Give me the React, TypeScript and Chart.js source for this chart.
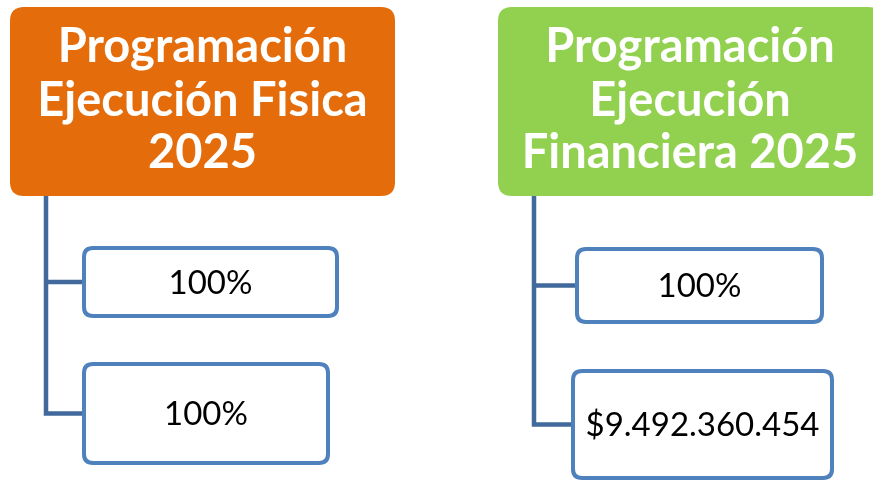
import React, { useEffect, useRef } from "react";
import { Chart, registerables } from "chart.js";

Chart.register(...registerables);

// ---- data ----
const groupNames = ["Fisica", "Financiera"];
const fisicaTitle = ["Programación", "Ejecución Fisica", "2025"];
const financieraTitle = ["Programación", "Ejecución", "Financiera 2025"];
const fisicaValues = ["100%", "100%"];
const financieraValues = ["100%", "$9.492.360.454"];

// ---- layout / style (in canvas units, mapped through chart scales) ----
const W = 873;
const H = 481;
const groups = [
  {
    title: fisicaTitle,
    values: fisicaValues,
    color: "#E46C0A",
    head: { x0: 10, y0: 7, x1: 395, y1: 196 },
    baselines: [62, 116, 168],
    stemX: 46,
    boxes: [
      { x0: 84, y0: 248, x1: 337, y1: 316 },
      { x0: 84, y0: 364, x1: 328, y1: 463 },
    ],
  },
  {
    title: financieraTitle,
    values: financieraValues,
    color: "#92D050",
    head: { x0: 498, y0: 7, x1: 882, y1: 196 },
    baselines: [62, 116, 168],
    stemX: 534,
    boxes: [
      { x0: 577, y0: 249, x1: 822, y1: 322 },
      { x0: 573, y0: 371, x1: 832, y1: 478 },
    ],
  },
];

function roundRect(ctx: CanvasRenderingContext2D, x: number, y: number, w: number, h: number, r: number) {
  ctx.beginPath();
  ctx.moveTo(x + r, y);
  ctx.lineTo(x + w - r, y);
  ctx.quadraticCurveTo(x + w, y, x + w, y + r);
  ctx.lineTo(x + w, y + h - r);
  ctx.quadraticCurveTo(x + w, y + h, x + w - r, y + h);
  ctx.lineTo(x + r, y + h);
  ctx.quadraticCurveTo(x, y + h, x, y + h - r);
  ctx.lineTo(x, y + r);
  ctx.quadraticCurveTo(x, y, x + r, y);
  ctx.closePath();
}

const diagramPlugin = {
  id: "diagram",
  afterDraw(chart: any) {
    const ctx: CanvasRenderingContext2D = chart.ctx;
    const sx = chart.scales.x;
    const sy = chart.scales.y;
    const px = (v: number) => sx.getPixelForValue(v);
    const py = (v: number) => sy.getPixelForValue(v);
    ctx.save();
    groups.forEach((g) => {
      // header
      const h = g.head;
      roundRect(ctx, px(h.x0), py(h.y0), px(h.x1) - px(h.x0), py(h.y1) - py(h.y0), 14);
      ctx.fillStyle = g.color;
      ctx.fill();
      ctx.fillStyle = "#FFFFFF";
      ctx.textAlign = "center";
      ctx.textBaseline = "alphabetic";
      ctx.font = "bold 47px Lato";
      const cx = (px(h.x0) + px(h.x1)) / 2;
      g.title.forEach((line, i) => ctx.fillText(line, cx, py(g.baselines[i])));

      // connectors
      ctx.strokeStyle = "#41699B";
      ctx.lineWidth = 4.5;
      ctx.lineCap = "butt";
      ctx.lineJoin = "miter";
      const lastBox = g.boxes[g.boxes.length - 1];
      const lastMid = (lastBox.y0 + lastBox.y1) / 2;
      ctx.beginPath();
      ctx.moveTo(px(g.stemX), py(h.y1));
      ctx.lineTo(px(g.stemX), py(lastMid));
      ctx.lineTo(px(lastBox.x0), py(lastMid));
      ctx.stroke();
      g.boxes.forEach((b, i) => {
        const mid = (b.y0 + b.y1) / 2;
        if (i < g.boxes.length - 1) {
          ctx.beginPath();
          ctx.moveTo(px(g.stemX), py(mid));
          ctx.lineTo(px(b.x0), py(mid));
          ctx.stroke();
        }
      });

      // value boxes
      g.boxes.forEach((b, i) => {
        roundRect(ctx, px(b.x0), py(b.y0), px(b.x1) - px(b.x0), py(b.y1) - py(b.y0), 9);
        ctx.fillStyle = "#FFFFFF";
        ctx.fill();
        ctx.strokeStyle = "#4F81BD";
        ctx.lineWidth = 4;
        ctx.stroke();
        ctx.fillStyle = "#000000";
        ctx.font = "33px Lato";
        ctx.textAlign = "center";
        ctx.textBaseline = "middle";
        ctx.fillText(g.values[i], (px(b.x0) + px(b.x1)) / 2, py((b.y0 + b.y1) / 2) + 1);
      });
    });
    ctx.restore();
  },
};

export default function App() {
  const ref = useRef<HTMLCanvasElement | null>(null);
  useEffect(() => {
    if (!ref.current) return;
    const chart = new Chart(ref.current, {
      type: "scatter",
      data: {
        datasets: [
          {
            label: groupNames.join(" / "),
            data: [],
          },
        ],
      },
      options: {
        animation: false,
        responsive: false,
        maintainAspectRatio: false,
        layout: { padding: 0 },
        plugins: { legend: { display: false }, tooltip: { enabled: false } },
        scales: {
          x: { type: "linear", display: false, min: 0, max: W },
          y: { type: "linear", display: false, min: 0, max: H, reverse: true },
        },
      },
      plugins: [diagramPlugin],
    });
    return () => chart.destroy();
  }, []);
  return (
    <div style={{ position: "fixed", left: 0, top: 0, width: W, height: H, background: "#fff" }}>
      <canvas ref={ref} width={W} height={H} style={{ width: W, height: H }} />
    </div>
  );
}
